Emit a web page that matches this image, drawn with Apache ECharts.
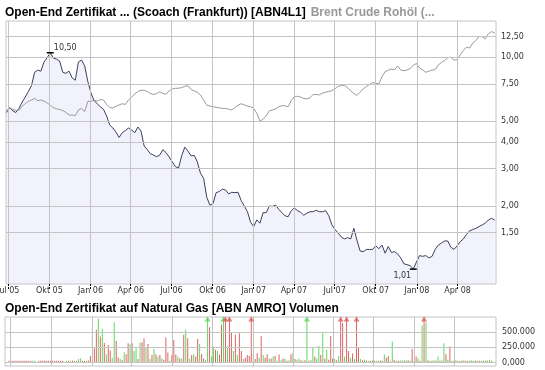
<!DOCTYPE html>
<html><head><meta charset="utf-8">
<script src="https://cdn.jsdelivr.net/npm/echarts@6/dist/echarts.min.js"></script>
<style>html,body{margin:0;padding:0;background:#fff}#c{width:545px;height:370px}</style>
</head><body><div id="c"></div>
<script>
const TITLE_MAIN = 'Open-End Zertifikat ... (Scoach (Frankfurt)) [ABN4L1]';
const TITLE_COMPARE = 'Brent Crude Rohöl (...';
const TITLE_VOLUME = 'Open-End Zertifikat auf Natural Gas [ABN AMRO] Volumen';

const quarterDates = ['2005-07-01','2005-10-01','2006-01-01','2006-04-01','2006-07-01','2006-10-01','2007-01-01','2007-04-01','2007-07-01','2007-10-01','2008-01-01','2008-04-01'];
const quarterLabels = ['Jul 05','Okt 05','Jan 06','Apr 06','Jul 06','Okt 06','Jan 07','Apr 07','Jul 07','Okt 07','Jan 08','Apr 08'];
const priceTicks = [12.5, 10, 7.5, 5, 4, 3, 2, 1.5];
const priceTickLabels = ['12,50','10,00','7,50','5,00','4,00','3,00','2,00','1,50'];
const volumeTicks = [500000, 250000, 0];
const volumeTickLabels = ['500.000','250.000','0,000'];

// weekly closes starting 2005-06-27
const weekStart = [2005, 6, 27];
const certificate = [
 5.5,5.8,5.6,5.5,5.75,6.15,6.5,6.9,7.35,8.5,
 8.7,8.6,9.5,9.95,10.5,9.9,9.8,9.6,8.5,8.4,
 8.6,8.0,7.8,9.5,9.7,9.1,7.7,6.8,6.25,6.05,
 5.85,5.7,5.3,4.8,4.65,4.45,4.2,4.42,4.52,4.65,
 4.55,4.42,4.7,4.5,3.83,3.68,3.52,3.47,3.41,3.47,
 3.68,3.56,3.4,3.22,3.06,3.02,3.45,3.78,3.62,3.44,
 3.46,3.22,2.85,2.7,2.2,2.02,2.05,2.31,2.34,2.4,
 2.38,2.28,2.32,2.31,2.32,2.12,2.0,1.88,1.68,1.6,
 1.72,1.66,1.86,1.86,2.0,1.99,2.02,1.93,1.86,1.8,
 1.78,1.9,1.96,1.9,1.87,1.81,1.85,1.88,1.88,1.91,
 1.88,1.88,1.9,1.8,1.63,1.55,1.49,1.43,1.4,1.42,
 1.4,1.57,1.38,1.23,1.22,1.25,1.25,1.25,1.3,1.26,
 1.31,1.2,1.29,1.21,1.22,1.19,1.14,1.07,1.06,1.05,
 1.01,1.09,1.17,1.16,1.17,1.14,1.16,1.25,1.31,1.34,
 1.37,1.37,1.28,1.25,1.3,1.36,1.4,1.47,1.53,1.55,
 1.57,1.6,1.63,1.66,1.72,1.75,1.72];
const brent = [
 5.6,5.78,5.7,5.62,5.65,5.88,6.05,6.2,6.3,6.4,
 6.25,6.3,6.22,6.1,5.95,5.8,5.72,5.68,5.62,5.5,
 5.35,5.35,5.32,5.65,5.75,5.55,6.2,6.2,6.28,6.22,
 6.32,6.3,6.0,5.8,5.78,5.88,5.97,6.05,6.0,6.3,
 6.5,6.72,6.9,7.0,7.0,6.9,6.75,6.68,6.75,6.88,
 6.75,6.7,6.95,7.1,7.15,7.15,7.2,7.3,7.35,7.05,
 6.95,6.85,6.65,6.3,5.95,5.9,5.85,5.82,5.78,5.75,
 5.75,5.7,5.65,5.8,5.95,6.05,5.97,5.9,5.85,5.75,
 5.45,5.0,5.12,5.3,5.6,5.65,5.72,5.85,5.92,5.92,
 5.85,6.25,6.55,6.55,6.5,6.4,6.37,6.45,6.68,6.68,
 6.66,6.78,6.85,6.9,6.97,7.1,7.3,7.35,7.38,7.2,
 6.95,6.75,6.62,6.85,7.1,7.28,7.45,7.6,7.55,7.5,
 8.1,8.55,8.7,8.8,8.72,9.1,8.7,8.65,8.7,8.85,
 9.15,9.35,8.9,8.72,8.5,8.6,8.7,8.75,9.2,9.45,
 9.65,9.95,10.0,9.7,9.72,10.25,10.75,11.15,11.05,11.65,
 12.0,12.5,12.5,12.2,12.9,13.2,13.0];

// volume samples every 4.5 days from 2005-06-27, in thousands; 1 = up day (green)
const volStepDays = 4.5;
const volumeThousands = [
 8,8,8,8,8,8,8,8,8,8,
 8,8,8,8,0,8,8,8,8,8,
 8,8,8,8,8,8,8,8,0,8,
 8,15,10,30,20,60,70,25,15,25,
 35,110,565,235,537,718,427,553,320,137,
 290,200,80,663,356,90,60,40,170,140,
 318,301,318,190,235,60,329,335,400,240,
 307,60,125,225,140,100,125,70,50,411,
 165,30,120,373,135,100,70,70,455,537,
 400,70,125,137,100,389,307,143,70,40,
 900,580,100,263,210,190,130,620,900,900,
 268,900,493,190,455,125,482,190,60,80,
 125,110,900,137,60,153,80,438,125,80,
 137,70,70,100,115,20,135,40,70,60,
 30,40,137,153,60,50,70,40,30,40,
 900,30,50,247,100,70,274,125,482,70,
 210,50,438,70,60,40,110,900,647,100,
 900,190,80,150,60,900,247,60,40,50,
 30,30,20,40,20,25,20,40,30,137,
 80,110,30,345,50,30,25,40,30,50,
 40,40,20,225,30,100,70,30,608,900,
 657,40,30,25,40,20,100,30,40,318,
 137,50,263,30,25,40,20,30,25,40,
 20,30,25,40,20,30,25,20,30,25,
 40,20,50,30];
const volumeUp = [
 0,0,0,0,0,0,0,0,0,0,
 0,0,1,1,0,0,0,0,0,0,
 0,0,0,0,0,0,0,0,0,1,
 0,1,0,1,0,1,1,0,0,1,
 0,0,1,0,0,1,0,1,0,1,
 0,0,1,1,0,0,1,0,1,0,
 0,1,0,1,1,0,1,0,0,1,
 0,1,0,1,0,1,0,1,0,0,
 0,1,0,0,0,1,0,1,0,1,
 0,1,0,1,0,0,1,0,0,1,
 1,0,1,1,0,1,0,0,1,0,
 1,0,0,1,0,1,0,0,1,0,
 0,0,0,1,0,0,1,0,1,0,
 0,1,0,1,0,1,0,1,0,1,
 0,1,0,1,0,1,1,0,1,0,
 1,0,1,1,0,1,1,0,1,0,
 1,0,0,0,1,0,1,0,0,1,
 0,0,1,0,1,0,0,1,0,1,
 0,1,0,1,0,1,0,1,0,1,
 0,0,1,1,0,1,0,1,0,1,
 1,0,1,0,1,0,1,0,1,0,
 1,0,1,0,1,0,1,0,1,1,
 0,1,0,1,0,1,0,1,0,1,
 0,1,0,1,1,0,1,0,1,0,
 1,0,1,1];

const DAY = 864e5;
const Y_MIN = 0.86, Y_MAX = 14.8;
const VOL_MIN = -54000, VOL_MAX = 747000;
const UP = '#5fd85f', DOWN = '#df6262';
const GRID = '#c4c4c4';
const fmt = v => v.toFixed(2).replace('.', ',');
const toTime = s => { const [y, m, d] = s.split('-').map(Number); return new Date(y, m - 1, d).getTime(); };
const quarterTimes = quarterDates.map(toTime);
const quarterLabel = v => {
  for (let i = 0; i < quarterTimes.length; i++) if (Math.abs(quarterTimes[i] - v) < DAY) return quarterLabels[i];
  return '';
};
const weekTimes = certificate.map((_, i) => new Date(weekStart[0], weekStart[1] - 1, weekStart[2] + 7 * i).getTime());
const volStart = new Date(2005, 5, 27).getTime();
const volTimes = volumeThousands.map((_, i) => volStart + i * volStepDays * DAY);

const FONT = 'DejaVu Sans';
const gridLineStyle = {color: GRID, width: 1, type: 'solid', opacity: 1};
const vLines = quarterTimes.map(t => ({xAxis: t, label: {show: false}}));

const chart = echarts.init(document.getElementById('c'), null, {renderer: 'canvas'});
chart.setOption({
  animation: false,
  backgroundColor: '#fff',
  title: [
    {left: 5, top: 4, padding: 0,
     text: '{a|' + TITLE_MAIN + '} {b|' + TITLE_COMPARE + '}',
     textStyle: {rich: {
       a: {fontFamily: 'Liberation Sans', fontWeight: 'bold', fontSize: 12, color: '#000'},
       b: {fontFamily: 'Liberation Sans', fontSize: 12, color: '#999'}}}},
    {left: 5, top: 303, padding: 0, text: TITLE_VOLUME,
     textStyle: {fontFamily: 'Liberation Sans', fontWeight: 'bold', fontSize: 12, color: '#000'}}
  ],
  grid: [
    {left: 6, right: 49, top: 21, bottom: 86, show: true, borderColor: GRID, borderWidth: 1, outerBoundsMode: 'none'},
    {left: 5, right: 49, top: 317, bottom: 4, show: true, borderColor: GRID, borderWidth: 1, outerBoundsMode: 'none'}
  ],
  xAxis: [
    {type: 'value', gridIndex: 0, min: toTime('2005-06-26'), max: toTime('2008-06-26'),
     axisLine: {show: false},
     axisTick: {show: true, customValues: quarterTimes, length: 5, lineStyle: {color: '#000', type: [2, 1]}},
     axisLabel: {customValues: quarterTimes, formatter: quarterLabel, fontSize: 8, fontFamily: FONT, color: '#333', margin: 3, hideOverlap: false},
     splitLine: {show: false}},
    {type: 'value', gridIndex: 1, min: toTime('2005-06-18'), max: new Date(2008, 6, 4, 12).getTime(),
     axisLine: {show: false}, axisTick: {show: false}, axisLabel: {show: false}, splitLine: {show: false}}
  ],
  yAxis: [
    {type: 'log', gridIndex: 0, min: Y_MIN, max: Y_MAX, axisLine: {show: false}, axisTick: {show: false},
     axisLabel: {show: false}, splitLine: {show: false}},
    {type: 'value', gridIndex: 1, min: VOL_MIN, max: VOL_MAX, axisLine: {show: false}, axisTick: {show: false},
     axisLabel: {show: false}, splitLine: {show: false}}
  ],
  series: [
    {type: 'line', name: 'cert', xAxisIndex: 0, yAxisIndex: 0, showSymbol: false, silent: true, z: 3,
     data: weekTimes.map((t, i) => [t, certificate[i]]),
     lineStyle: {color: '#3e3e5e', width: 1},
     areaStyle: {color: 'rgba(214,214,246,0.45)', origin: Y_MIN},
     markLine: {silent: true, symbol: ['none', 'none'], animation: false,
       lineStyle: gridLineStyle,
       label: {position: 'end', distance: 5, color: '#333', fontSize: 8, fontFamily: FONT},
       data: priceTicks.map((v, i) => ({yAxis: v, label: {formatter: priceTickLabels[i]}})).concat(vLines)},
     markPoint: {symbol: 'rect', symbolSize: [7, 1.5], silent: true, animation: false,
       itemStyle: {color: '#000'},
       label: {position: 'inside', color: '#333', fontSize: 8, fontFamily: FONT, formatter: p => fmt(p.value)},
       data: [{type: 'max', label: {offset: [15, -5]}}, {type: 'min', label: {offset: [-11, 7]}}]}},
    {type: 'line', name: 'brent', xAxisIndex: 0, yAxisIndex: 0, showSymbol: false, silent: true, z: 4,
     data: weekTimes.map((t, i) => [t, brent[i]]),
     lineStyle: {color: '#9a9a9a', width: 1}},
    {type: 'bar', name: 'vol', xAxisIndex: 1, yAxisIndex: 1, barWidth: 1, barMinHeight: 2, clip: true, silent: true,
     data: volTimes.map((t, i) => [t, volumeThousands[i] > 0 ? volumeThousands[i] * 1000 : null]),
     itemStyle: {color: p => volumeUp[p.dataIndex] ? UP : DOWN},
     markLine: {silent: true, symbol: ['none', 'none'], animation: false,
       lineStyle: gridLineStyle,
       label: {position: 'end', distance: 6, color: '#333', fontSize: 8, fontFamily: FONT},
       data: volumeTicks.map((v, i) => ({yAxis: v, label: {formatter: volumeTickLabels[i]}})).concat(vLines)}},
    {type: 'scatter', name: 'over', xAxisIndex: 1, yAxisIndex: 1, symbol: 'triangle', symbolSize: [6, 5],
     symbolOffset: [0, 2], silent: true, z: 5,
     data: volTimes.map((t, i) => volumeThousands[i] * 1000 > VOL_MAX
       ? {value: [t, VOL_MAX], itemStyle: {color: volumeUp[i] ? UP : DOWN}} : null).filter(d => d)}
  ]
});
</script></body></html>
